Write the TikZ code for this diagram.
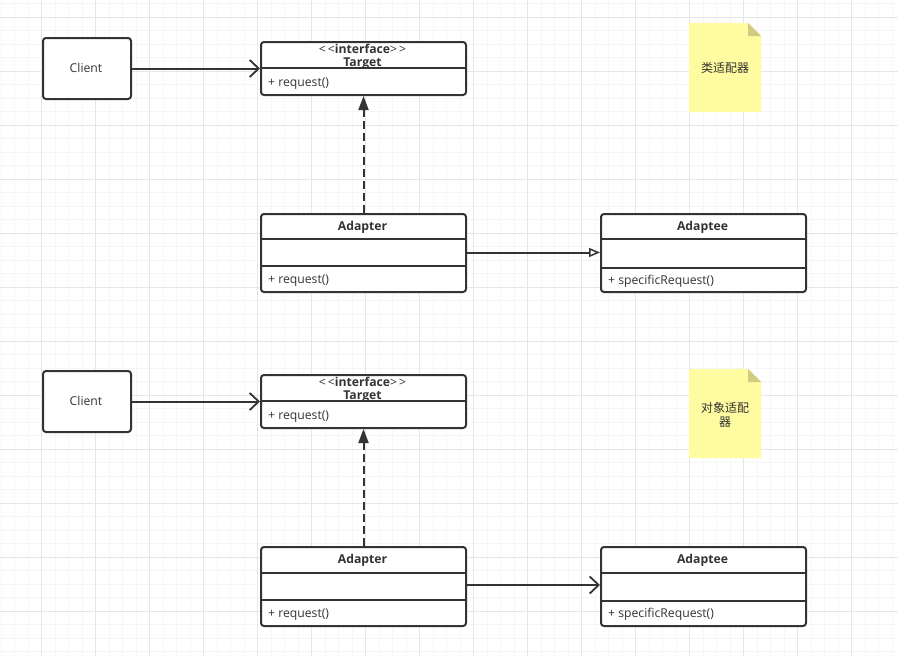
\documentclass[tikz,border=0pt]{standalone}
\usepackage{fontspec}
\setmainfont{Open Sans}
\newfontfamily\cjk{Noto Sans CJK SC}
\usetikzlibrary{arrows.meta,calc}

\definecolor{ink}{RGB}{51,51,51}
\definecolor{gridminor}{RGB}{246,246,246}
\definecolor{gridmajor}{RGB}{230,230,230}
\definecolor{notefill}{RGB}{255,251,160}
\definecolor{notefold}{RGB}{208,203,130}

\begin{document}
\begin{tikzpicture}[x=1pt,y=-1pt,
  umlbox/.style={draw=ink, line width=2pt, rounded corners=3pt, fill=white,
                 inner sep=0pt, anchor=north west},
  divider/.style={draw=ink, line width=2pt},
  txt/.style={text=ink, inner sep=0pt, font=\fontsize{12.2}{14}\selectfont},
  btxt/.style={txt, font=\fontsize{12.2}{14}\selectfont\bfseries},
  notetxt/.style={text=ink, inner sep=0pt, align=center,
                  font=\fontsize{12}{14}\selectfont\cjk},
  assoc/.style={draw=ink, line width=2pt,
                -{Straight Barb[length=9pt,width=17pt,line width=1.8pt]}},
  inherit/.style={draw=ink, line width=2pt,
                -{Triangle[length=11pt,width=9pt,fill=white,line width=1.5pt]}},
  realize/.style={draw=ink, line width=2pt, dash pattern=on 8pt off 4pt,
                -{Triangle[length=14pt,width=10pt]}},
]
% page and background grid
\useasboundingbox (0,0) rectangle (898,656);
\fill[white] (0,0) rectangle (898,656);
\foreach \i in {0,...,66} {
  \draw[gridminor, line width=1pt] ({1.2+13.5*\i},0) -- ({1.2+13.5*\i},656);
}
\foreach \j in {0,...,48} {
  \draw[gridminor, line width=1pt] (0,{3.5+13.5*\j}) -- (898,{3.5+13.5*\j});
}
\foreach \i in {0,...,16} {
  \draw[gridmajor, line width=1pt] ({-12.3+54*\i},0) -- ({-12.3+54*\i},656);
}
\foreach \j in {0,...,12} {
  \draw[gridmajor, line width=1pt] (0,{17+54*\j}) -- (898,{17+54*\j});
}

% ---------- class adapter ----------
\node[umlbox, minimum width=88pt, minimum height=61pt] (c1) at (42,37) {};
\node[txt, anchor=base] (c1l) at (86,72.5) {Client};

\node[umlbox, minimum width=205pt, minimum height=53pt] (t1) at (260,41) {};
\draw[divider] ($(t1.north west)+(0,27)$) -- ($(t1.north east)+(0,27)$);
\node[txt, anchor=base] (t1s) at (362.5,53.3) {\textless\,\textless\textbf{interface}\textgreater\,\textgreater};
\node[btxt, anchor=base] (t1n) at (362.5,66.8) {Target};
\node[txt, anchor=base west] (t1m) at (268,86.5) {+ request()};

\node[umlbox, minimum width=205pt, minimum height=78pt] (a1) at (260,213) {};
\draw[divider] ($(a1.north west)+(0,26)$) -- ($(a1.north east)+(0,26)$);
\draw[divider] ($(a1.north west)+(0,53)$) -- ($(a1.north east)+(0,53)$);
\node[btxt, anchor=base] (a1n) at (362.5,230.3) {Adapter};
\node[txt, anchor=base west] (a1m) at (268,283.5) {+ request()};

\node[umlbox, minimum width=205pt, minimum height=78pt] (e1) at (600,213) {};
\draw[divider] ($(e1.north west)+(0,26)$) -- ($(e1.north east)+(0,26)$);
\draw[divider] ($(e1.north west)+(0,55)$) -- ($(e1.north east)+(0,55)$);
\node[btxt, anchor=base] (e1n) at (702.5,230.3) {Adaptee};
\node[txt, anchor=base west] (e1m) at (608,284) {+ specificRequest()};

\fill[notefill] (689,23) -- (748,23) -- (761,36) -- (761,112) -- (689,112) -- cycle;
\fill[notefold] (748,23) -- (748,36) -- (761,36) -- cycle;
\node[notetxt] (n1) at (725,68) {类适配器};

\draw[assoc] (c1.east) -- (c1.east -| t1.west);
\draw[realize] (a1.north) -- (t1.south);
\coordinate (a1r) at ($(a1.north east)+(0,39.5)$);
\draw[inherit] (a1r) -- (a1r -| e1.west);

% ---------- object adapter ----------
\begin{scope}[shift={(0,333)}]
\node[umlbox, minimum width=88pt, minimum height=61pt] (c2) at (42,37) {};
\node[txt, anchor=base] (c2l) at (86,72.5) {Client};

\node[umlbox, minimum width=205pt, minimum height=53pt] (t2) at (260,41) {};
\draw[divider] ($(t2.north west)+(0,27)$) -- ($(t2.north east)+(0,27)$);
\node[txt, anchor=base] (t2s) at (362.5,53.3) {\textless\,\textless\textbf{interface}\textgreater\,\textgreater};
\node[btxt, anchor=base] (t2n) at (362.5,66.8) {Target};
\node[txt, anchor=base west] (t2m) at (268,86.5) {+ request()};

\node[umlbox, minimum width=205pt, minimum height=79pt] (a2) at (260,213) {};
\draw[divider] ($(a2.north west)+(0,26.5)$) -- ($(a2.north east)+(0,26.5)$);
\draw[divider] ($(a2.north west)+(0,53.5)$) -- ($(a2.north east)+(0,53.5)$);
\node[btxt, anchor=base] (a2n) at (362.5,230.3) {Adapter};
\node[txt, anchor=base west] (a2m) at (268,284) {+ request()};

\node[umlbox, minimum width=205pt, minimum height=79pt] (e2) at (600,213) {};
\draw[divider] ($(e2.north west)+(0,26.5)$) -- ($(e2.north east)+(0,26.5)$);
\draw[divider] ($(e2.north west)+(0,55)$) -- ($(e2.north east)+(0,55)$);
\node[btxt, anchor=base] (e2n) at (702.5,230.3) {Adaptee};
\node[txt, anchor=base west] (e2m) at (608,284) {+ specificRequest()};

\fill[notefill] (689,36) -- (748,36) -- (761,49) -- (761,125) -- (689,125) -- cycle;
\fill[notefold] (748,36) -- (748,49) -- (761,49) -- cycle;
\node[notetxt] (n2) at (725,82) {对象适配\\器};

\draw[assoc] (c2.east) -- (c2.east -| t2.west);
\draw[realize] (a2.north) -- (t2.south);
\coordinate (a2r) at ($(a2.north east)+(0,39)$);
\draw[assoc] (a2r) -- (a2r -| e2.west);
\end{scope}
\end{tikzpicture}
\end{document}
